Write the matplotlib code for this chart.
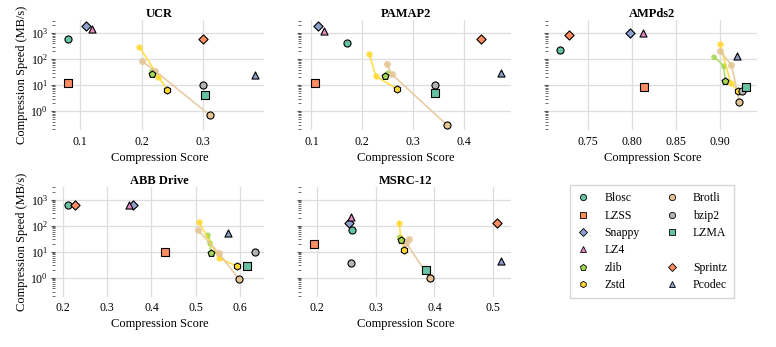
import matplotlib
matplotlib.use("Agg")
import matplotlib.pyplot as plt
from matplotlib.lines import Line2D

# compressors and styling
names = ["Blosc", "LZSS", "Snappy", "LZ4", "zlib", "Zstd", "Brotli", "bzip2", "LZMA", "Sprintz", "Pcodec"]
markers = ["o", "s", "D", "^", "p", "h", "o", "o", "s", "D", "^"]
colors = ["#66c2a5", "#fc8d62", "#8da0cb", "#e78ac3", "#a6d854", "#ffd92f", "#e5c494", "#b3b3b3",
          "#66c2a5", "#fc8d62", "#8da0cb"]

datasets = ["UCR", "PAMAP2", "AMPds2", "ABB Drive", "MSRC-12"]

# (score, speed MB/s) of each compressor, same order as names
ucr_score = [0.080, 0.080, 0.110, 0.119, 0.216, 0.241, 0.310, 0.300, 0.302, 0.300, 0.384]
ucr_speed = [620, 12.5, 1850, 1400, 26, 6.8, 0.72, 10, 4.1, 600, 25]
pamap_score = [0.171, 0.107, 0.113, 0.125, 0.246, 0.269, 0.367, 0.344, 0.344, 0.434, 0.473]
pamap_speed = [400, 12.5, 1800, 1200, 23, 7.2, 0.30, 10.3, 4.9, 620, 29]
ampds_score = [0.718, 0.813, 0.798, 0.8125, 0.906, 0.920, 0.922, 0.925, 0.930, 0.728, 0.919]
ampds_speed = [235, 8.8, 1000, 1000, 15, 6.0, 2.3, 6.0, 8.4, 880, 134]
abb_score = [0.212, 0.431, 0.359, 0.350, 0.533, 0.593, 0.596, 0.633, 0.615, 0.227, 0.573]
abb_speed = [640, 10, 660, 640, 9, 2.8, 0.94, 10, 2.8, 660, 54]
msrc_score = [0.259, 0.195, 0.255, 0.257, 0.343, 0.348, 0.392, 0.257, 0.385, 0.507, 0.513]
msrc_speed = [72, 20, 126, 228, 29, 12.2, 0.97, 3.6, 1.96, 134, 4.4]

# lower compression levels (score, speed) for zlib, Zstd, Brotli
ucr_levels = {"zlib": [(0.217, 34)], "Zstd": [(0.196, 300), (0.227, 21.5)],
              "Brotli": [(0.200, 84), (0.222, 35)]}
pamap_levels = {"zlib": [(0.250, 30)], "Zstd": [(0.214, 160), (0.227, 22)],
                "Brotli": [(0.249, 64), (0.258, 27)]}
ampds_levels = {"zlib": [(0.893, 126), (0.904, 57)], "Zstd": [(0.900, 378), (0.912, 12.6)],
                "Brotli": [(0.900, 203), (0.913, 60)]}
abb_levels = {"zlib": [(0.528, 44), (0.532, 22)], "Zstd": [(0.507, 138), (0.552, 5.7)],
              "Brotli": [(0.505, 68), (0.552, 8.8)]}
msrc_levels = {"zlib": [(0.341, 38), (0.342, 33)], "Zstd": [(0.340, 126), (0.343, 30)],
               "Brotli": [(0.357, 32), (0.352, 22)]}

all_score = [ucr_score, pamap_score, ampds_score, abb_score, msrc_score]
all_speed = [ucr_speed, pamap_speed, ampds_speed, abb_speed, msrc_speed]
all_levels = [ucr_levels, pamap_levels, ampds_levels, abb_levels, msrc_levels]
xlims = [(0.059, 0.399), (0.080, 0.493), (0.704, 0.942), (0.183, 0.654), (0.173, 0.530)]
xticks = [[0.1, 0.2, 0.3], [0.1, 0.2, 0.3, 0.4], [0.75, 0.80, 0.85, 0.90],
          [0.2, 0.3, 0.4, 0.5, 0.6], [0.2, 0.3, 0.4, 0.5]]
xfmt = ["%.1f", "%.1f", "%.2f", "%.1f", "%.1f"]

plt.rcParams["font.family"] = ["Liberation Serif", "DejaVu Serif"]
plt.rcParams["mathtext.fontset"] = "stix"

fig, axes = plt.subplots(2, 3, figsize=(7.76, 3.47), dpi=100)
fig.subplots_adjust(left=0.0709, right=0.9755, top=0.9424, bottom=0.145, wspace=0.177, hspace=0.515)
axes = axes.flatten()

for i, ax in enumerate(axes[:5]):
    score, speed, levels = all_score[i], all_speed[i], all_levels[i]
    # level lines first
    for name in ["zlib", "Zstd", "Brotli"]:
        k = names.index(name)
        pts = levels[name] + [(score[k], speed[k])]
        ax.plot([p[0] for p in pts], [p[1] for p in pts], color=colors[k], marker=markers[k],
                markersize=5, markeredgewidth=0, lw=1.2, alpha=0.85, zorder=2)
    for k in range(len(names)):
        ax.scatter(score[k], speed[k], marker=markers[k], color=colors[k], s=26 if markers[k] != "D" else 22,
                   edgecolors="black", linewidths=0.8, zorder=3)
    ax.set_yscale("log")
    ax.set_ylim(0.19, 3200)
    ax.set_xlim(*xlims[i])
    ax.set_xticks(xticks[i])
    ax.set_xticklabels([xfmt[i] % t for t in xticks[i]])
    ax.set_yticks([1, 10, 100, 1000])
    ax.grid(True, which="major", color="#dedede", lw=0.9)
    ax.set_axisbelow(True)
    for s in ax.spines.values():
        s.set_visible(False)
    ax.tick_params(axis="x", length=0, labelsize=8.5, pad=4)
    ax.tick_params(axis="y", which="major", length=3, width=0.8, color="#555555", labelsize=8.5, pad=2)
    ax.tick_params(axis="y", which="minor", length=2, width=0.6, color="#555555")
    ax.set_title(datasets[i], fontsize=9, fontweight="bold", pad=2)
    ax.set_xlabel("Compression Score", fontsize=9, labelpad=3)
    if i in (0, 3):
        ax.set_ylabel("Compression Speed (MB/s)", fontsize=9, labelpad=2)
    else:
        ax.set_yticklabels([])

# legend panel
lax = axes[5]
lax.axis("off")
handles = []
for k in range(len(names)):
    handles.append(Line2D([], [], linestyle="none", marker=markers[k], color=colors[k],
                          markeredgecolor="black", markeredgewidth=0.6, markersize=4.5, label=names[k]))
blank = Line2D([], [], linestyle="none", marker=None, label=" ")
order = handles[:6] + handles[6:9] + [blank] + handles[9:]
lax.legend(handles=order, labels=[h.get_label() for h in order], ncol=2, loc="center",
           fontsize=8.5, frameon=True, fancybox=False, edgecolor="#cccccc",
           handlelength=1.0, handletextpad=1.3, columnspacing=2.2, labelspacing=0.45, borderpad=0.6,
           borderaxespad=0.0)

fig.savefig("out.png", dpi=100)
